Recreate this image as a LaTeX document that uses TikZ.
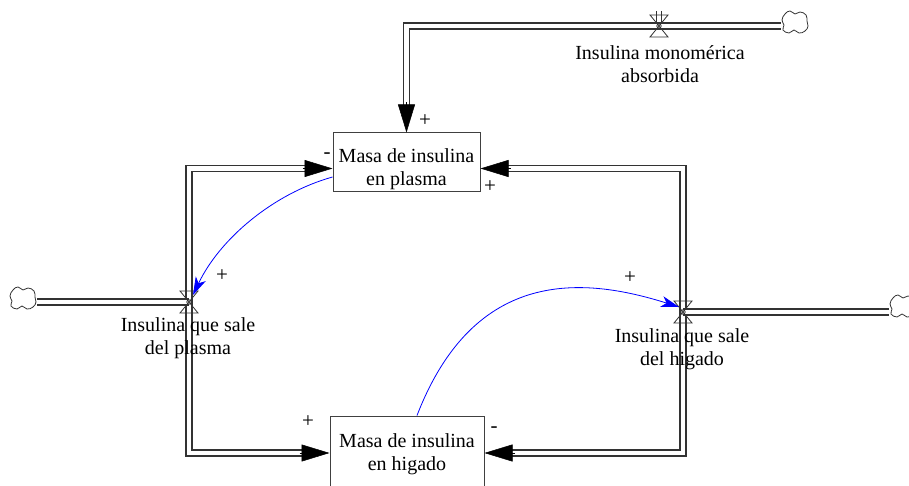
\documentclass[tikz,border=0pt]{standalone}
\usepackage{fontspec}
\setmainfont{Liberation Serif}
\usetikzlibrary{arrows.meta,calc}
\newcommand{\valve}[1]{\draw[valveline] ($(#1)+(-9,-11)$)--($(#1)+(9,-11)$)--($(#1)+(-9,11)$)--($(#1)+(9,11)$)--cycle;\draw[valveline] (#1) circle (2.2);}
\newcommand{\cloud}[1]{\draw[cloudline,shift={(#1)}] plot[smooth cycle,tension=.8] coordinates{(12,-1)(11,-7)(5,-10)(0,-8)(-5,-11)(-10,-8)(-13,-2)(-11,3)(-12,8)(-6,11)(-1,8)(4,11)(10,9)(13,4)};}
\tikzset{>=Stealth,pipe/.style={draw=black!80,line width=1.3pt,double=white,double distance=4.6pt},
  tip/.style={-{Triangle[length=28pt,width=17pt]},line width=.5pt},
  info/.style={draw=blue,line width=.8pt,-{Stealth[length=18pt,width=11pt,inset=5pt]}},
  stock/.style={draw=black!75,line width=1pt,minimum width=147pt,minimum height=59pt},
  lbl/.style={align=center,font=\fontsize{20}{23}\selectfont},sgn/.style={font=\fontsize{21}{21}\selectfont},
  valveline/.style={draw=black!80,line width=.8pt},cloudline/.style={draw=black!80,line width=.8pt}}
\begin{document}
\begin{tikzpicture}[x=1pt,y=-1pt]
\useasboundingbox (0,0) rectangle (909,486);
\node[stock] (plasma) at (406.5,162.5) {};\node[stock,minimum width=154pt,minimum height=74pt] (higado) at (407,453) {};
\node[lbl] (tplasma) at (406.5,169.5) {Masa de insulina\\en plasma};\node[lbl] (thigado) at (407,454) {Masa de insulina\\en higado};
\coordinate (vabs) at (659,26);\coordinate (vpla) at (189,302);\coordinate (vhig) at (683,312);
\coordinate (ctop) at (795,22);\coordinate (cleft) at (23,298);\coordinate (cright) at (903,306);
\coordinate (etop) at (781,26);\coordinate (eleft) at (37,302);\coordinate (eright) at (889,312);
\coordinate (pw) at ([yshift=-6pt]plasma.west);\coordinate (pe) at ([yshift=-6pt]plasma.east);
\draw[pipe] (etop) -- (plasma.north |- etop) -- ([yshift=26pt]plasma.north);
\draw[pipe] ([xshift=-26pt]pw) -- (vpla |- pw) -- (vpla |- higado.west) -- ([xshift=-26pt]higado.west);
\draw[pipe] ([xshift=26pt]pe) -- (vhig |- pe) -- (vhig |- higado.east) -- ([xshift=26pt]higado.east);
\draw[pipe] (eleft) -- (vpla);\draw[pipe] (vhig) -- (eright);
\draw[tip] ([yshift=30pt]plasma.north) -- (plasma.north);
\draw[tip] ([xshift=-30pt]pw) -- (pw);\draw[tip] ([xshift=30pt]pe) -- (pe);
\draw[tip] ([xshift=-30pt]higado.west) -- (higado.west);\draw[tip] ([xshift=30pt]higado.east) -- (higado.east);
\valve{vabs}\valve{vpla}\valve{vhig}
\draw[valveline] ($(vabs)+(-2.5,-15)$) -- ($(vabs)+(-2.5,-2)$);\draw[valveline] ($(vabs)+(2.5,-15)$) -- ($(vabs)+(2.5,-2)$);
\cloud{ctop}\cloud{cleft}\cloud{cright}
\node[lbl] (labs) at (660,64) {Insulina monomérica\\absorbida};
\node[lbl] (lpla) at (188,338) {Insulina que sale\\del plasma};
\node[lbl] (lhig) at (682,349) {Insulina que sale\\del higado};
\draw[info] ([yshift=-14.5pt]plasma.west) .. controls +(-59.5,16.7) and +(26.7,-56) .. ($(vpla)+(4,-7)$);
\draw[info] ([xshift=10pt]higado.north) .. controls +(57.6,-148.8) and +(-95,-30) .. ($(vhig)+(-4,-5)$);
\node[sgn] (s1) at (425,121) {+};\node[sgn] (s2) at (327,156) {-};\node[sgn] (s3) at (490,187) {+};
\node[sgn] (s4) at (222,276) {+};\node[sgn] (s5) at (630,278) {+};
\node[sgn] (s6) at (308,422) {+};\node[sgn] (s7) at (494,430) {-};
\end{tikzpicture}
\end{document}
